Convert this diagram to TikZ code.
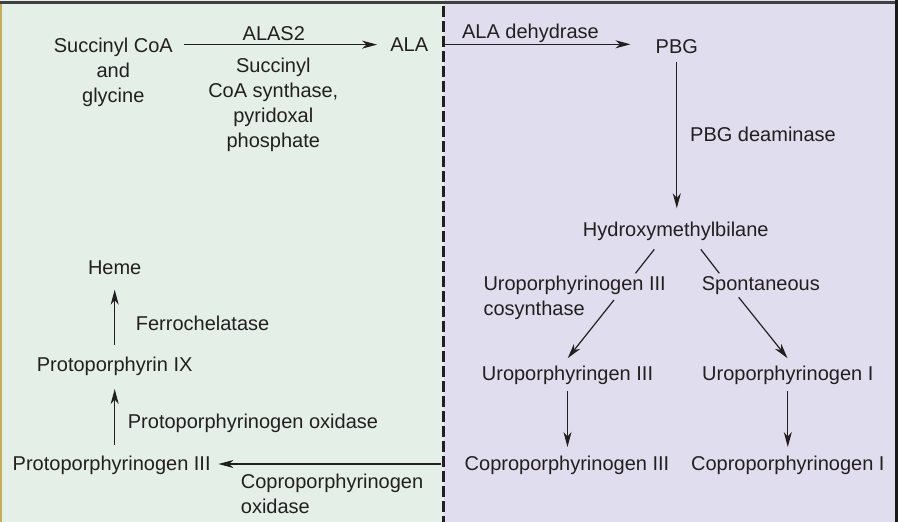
\documentclass[tikz,border=0pt]{standalone}
\usepackage{fontspec}
\setmainfont{Liberation Sans}
\usetikzlibrary{arrows.meta}
\definecolor{greenbg}{HTML}{E4EFE7}
\definecolor{lilacbg}{HTML}{E0DDEE}
\definecolor{ink}{HTML}{231F20}
\definecolor{edge}{HTML}{C4AE5C}

\begin{document}
\begin{tikzpicture}[x=1pt, y=-1pt,
		every node/.style={inner sep=0pt, text=ink, font=\fontsize{20}{25}\selectfont},
		arr/.style={draw=ink, line width=1.2pt, -{Stealth[length=15pt,width=8pt,inset=4.5pt]}},
		seg/.style={draw=ink, line width=1.2pt}]
				\useasboundingbox (0,0) rectangle (898,522);
				\fill[greenbg] (0,0) rectangle (443.5,522);
				\fill[lilacbg] (443.5,0) rectangle (898,522);
				\draw[line width=3pt, draw=black!75] (0,2.5) -- (898,2.5);
				\draw[line width=3pt, draw=black!90] (896.5,0) -- (896.5,522);
				\draw[line width=1.5pt, draw=edge] (0.75,4) -- (0.75,522);
				\draw[line width=2.5pt, draw=ink, dash pattern=on 10.5pt off 4.5pt] (443.7,6) -- (443.7,522);
				
				\node (1) [align=center] at (113.3,72.2) {Succinyl CoA\\and\\glycine};
				\node (2) [anchor=base] at (409.2,51.5) {ALA};
				\node (e1) [anchor=base] at (273.8,40) {ALAS2};
				\node (e1b) [align=center] at (273.3,105) {Succinyl\\CoA synthase,\\pyridoxal\\phosphate};
				\node (e2) [anchor=base] at (530.5,38) {ALA dehydrase};
				\node (3) [anchor=base] at (676.8,53.3) {PBG};
				\node (e3) [anchor=base west] at (690,141.7) {PBG deaminase};
				\node (4) [anchor=base] at (675.8,236) {Hydroxymethylbilane};
				\node (e4) [anchor=west, align=left] at (483.3,298) {Uroporphyrinogen III\\cosynthase};
				\node (e5) [anchor=base west] at (701.7,290.7) {Spontaneous};
				\node (5) [anchor=base] at (567.5,380.7) {Uroporphyringen III};
				\node (6) [anchor=base] at (787.8,380.7) {Uroporphyrinogen I};
				\node (7) [anchor=base] at (567,470.7) {Coproporphyrinogen III};
				\node (8) [anchor=base] at (787.8,470.7) {Coproporphyrinogen I};
				\node (9) [anchor=base] at (111.7,470.7) {Protoporphyrinogen III};
				\node (e6) [anchor=west, align=left] at (240.7,494) {Coproporphyrinogen\\oxidase};
				\node (e7) [anchor=base west] at (127.7,428.3) {Protoporphyrinogen oxidase};
				\node (10) [anchor=base] at (114.7,371.7) {Protoporphyrin IX};
				\node (e8) [anchor=base west] at (135.7,330.7) {Ferrochelatase};
				\node (11) [anchor=base] at (114.7,274.3) {Heme};
				
				\coordinate (d1) at (444,44.3);
				\coordinate (d2) at (441,464);
				\coordinate (ua) at (635.5,273.3);
				\coordinate (ub) at (614,300);
				\coordinate (sa) at (719.3,273.3);
				\coordinate (sb) at (738.7,297.3);
				
				\draw[arr, shorten <=11pt, shorten >=13pt] (1.east |- 2.west) -- (2.west);
				\draw[arr, shorten >=25pt] (d1) -- (d1 -| 3.west);
				\draw[arr, shorten <=8pt, shorten >=13pt] (3.south) -- (3.south |- 4.north);
				\draw[seg] (4.south) ++(-21.5,9) -- (ua);
				\draw[arr, shorten >=10pt] (ub) -- ([xshift=-6pt]5.north);
				\draw[seg] (4.south) ++(25,9) -- (sa);
				\draw[arr, shorten >=10pt] (sb) -- ([xshift=6pt]6.north);
				\draw[arr, shorten <=6pt, shorten >=9pt] (5.south) -- (5.south |- 7.north);
				\draw[arr, shorten <=6pt, shorten >=9pt] (6.south) -- (6.south |- 8.north);
				\draw[arr, shorten >=7.6pt] (d2) -- (d2 -| 9.east);
				\draw[arr, shorten <=11.5pt, shorten >=13pt] (10.south |- 9.north) -- (10.south);
				\draw[arr, shorten <=12.5pt, shorten >=15pt] (11.south |- 10.north) -- (11.south);
			\end{tikzpicture}
\end{document}
